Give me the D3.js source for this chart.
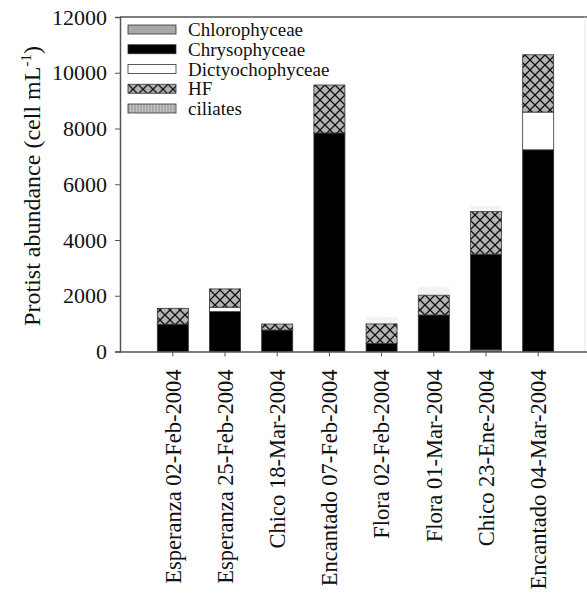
<!DOCTYPE html>
<html>
<head>
<meta charset="utf-8">
<script src="https://cdn.jsdelivr.net/npm/d3@7"></script>
<style>
  body { margin: 0; background: #fff; }
  svg { display: block; font-family: "Liberation Serif", "DejaVu Serif", serif; }
</style>
</head>
<body>
<svg id="chart" width="587" height="603"></svg>
<script>
const samples = [
  'Esperanza 02-Feb-2004', 'Esperanza 25-Feb-2004', 'Chico 18-Mar-2004', 'Encantado 07-Feb-2004',
  'Flora 02-Feb-2004', 'Flora 01-Mar-2004', 'Chico 23-Ene-2004', 'Encantado 04-Mar-2004'
]
const groups = ['Chlorophyceae', 'Chrysophyceae', 'Dictyochophyceae', 'HF', 'ciliates']

const chlorophyceae = [0, 0, 0, 0, 0, 0, 60, 0]
const chrysophyceae = [980, 1430, 770, 7840, 290, 1310, 3430, 7235]
const dictyochophyceae = [0, 160, 0, 0, 0, 0, 0, 1355]
const hf = [570, 655, 215, 1720, 700, 710, 1530, 2055]
const ciliates = [0, 0, 0, 60, 250, 300, 200, 0]

const yTicks = [0, 2000, 4000, 6000, 8000, 10000, 12000]

const rows = samples.map((s, i) => ({
  sample: s,
  Chlorophyceae: chlorophyceae[i],
  Chrysophyceae: chrysophyceae[i],
  Dictyochophyceae: dictyochophyceae[i],
  HF: hf[i],
  ciliates: ciliates[i]
}))

const svg = d3.select('#chart')
const margin = { top: 17, left: 120, bottom: 251.5 }
const plotBottom = 603 - margin.bottom

const defs = svg.append('defs')
const hfPat = defs.append('pattern')
  .attr('id', 'hf').attr('patternUnits', 'userSpaceOnUse')
  .attr('width', 10).attr('height', 10)
hfPat.append('rect').attr('width', 10).attr('height', 10).attr('fill', '#b4b4b4')
hfPat.append('path').attr('d', 'M0,0L10,10M10,0L0,10').attr('stroke', '#111').attr('stroke-width', 1.3)

const cilPat = defs.append('pattern')
  .attr('id', 'cil').attr('patternUnits', 'userSpaceOnUse')
  .attr('width', 3).attr('height', 3)
cilPat.append('rect').attr('width', 3).attr('height', 3).attr('fill', '#c8c8c8')
cilPat.append('path').attr('d', 'M1,0V3').attr('stroke', '#888').attr('stroke-width', 1)

const fills = {
  Chlorophyceae: '#a8a8a8',
  Chrysophyceae: '#000',
  Dictyochophyceae: '#fff',
  HF: 'url(#hf)',
  ciliates: 'url(#cil)'
}

const x = d3.scaleBand().domain(samples).range([margin.left, 591]).paddingInner(0.406).paddingOuter(0.715)
const y = d3.scaleLinear().domain([0, 12000]).range([plotBottom, margin.top])

const stack = d3.stack().keys(groups)(rows)

const layers = svg.append('g')
stack.forEach(layer => {
  const key = layer.key
  layers.append('g')
    .attr('opacity', key === 'ciliates' ? 0.15 : 1)
    .selectAll('rect')
    .data(layer.filter(d => d[1] - d[0] > 0))
    .join('rect')
    .attr('x', d => x(d.data.sample))
    .attr('y', d => y(d[1]))
    .attr('width', x.bandwidth())
    .attr('height', d => y(d[0]) - y(d[1]))
    .attr('fill', fills[key])
    .attr('stroke', key === 'ciliates' ? 'none' : '#333')
    .attr('stroke-width', 0.8)
})

// frame
svg.append('line').attr('x1', margin.left).attr('x2', 587).attr('y1', margin.top).attr('y2', margin.top)
  .attr('stroke', '#555').attr('stroke-width', 1.5)
svg.append('line').attr('x1', 585).attr('x2', 585).attr('y1', margin.top).attr('y2', plotBottom)
  .attr('stroke', '#e4e4e4').attr('stroke-width', 1)

const yAxis = svg.append('g')
  .attr('transform', `translate(${margin.left},0)`)
  .call(d3.axisLeft(y).tickValues(yTicks).tickSize(5).tickPadding(8).tickFormat(d3.format('d')))
yAxis.select('.domain').attr('stroke', '#555').attr('stroke-width', 1.5)
yAxis.selectAll('.tick line').attr('stroke', '#555')
yAxis.selectAll('text').attr('font-size', 22).attr('fill', '#111').attr('font-family', 'Liberation Serif')

const xAxis = svg.append('g')
  .attr('transform', `translate(0,${plotBottom})`)
  .call(d3.axisBottom(x).tickSize(5).tickSizeOuter(0))
xAxis.select('.domain').attr('stroke', '#555').attr('stroke-width', 1.5).attr('d', `M${margin.left},0.5H587`)
xAxis.selectAll('.tick line').attr('stroke', '#555')
xAxis.selectAll('text')
  .attr('font-size', 22.5).attr('fill', '#111').attr('font-family', 'Liberation Serif')
  .attr('transform', 'rotate(-90)')
  .attr('text-anchor', 'end')
  .attr('dy', '0.35em')
  .attr('x', -18)
  .attr('y', 0)

svg.append('text')
  .attr('transform', 'rotate(-90)')
  .attr('x', -186)
  .attr('y', 40)
  .attr('text-anchor', 'middle')
  .attr('font-size', 24)
  .attr('fill', '#111')
  .text('Protist abundance (cell mL')
  .append('tspan').attr('dy', -9).attr('font-size', 15).text('-1')
  .select(function () { return this.parentNode })
  .append('tspan').attr('dy', 9).text(')')

const legend = svg.append('g').attr('transform', 'translate(128,25)')
groups.forEach((g, i) => {
  const row = legend.append('g').attr('transform', `translate(0,${i * 19.75})`)
  row.append('rect').attr('width', 48).attr('height', 9)
    .attr('fill', fills[g]).attr('stroke', '#333').attr('stroke-width', 0.8)
  row.append('text').attr('x', 60).attr('y', 4.5).attr('dy', '0.35em')
    .attr('font-size', 19).attr('fill', '#111').text(g)
})
</script>
</body>
</html>
